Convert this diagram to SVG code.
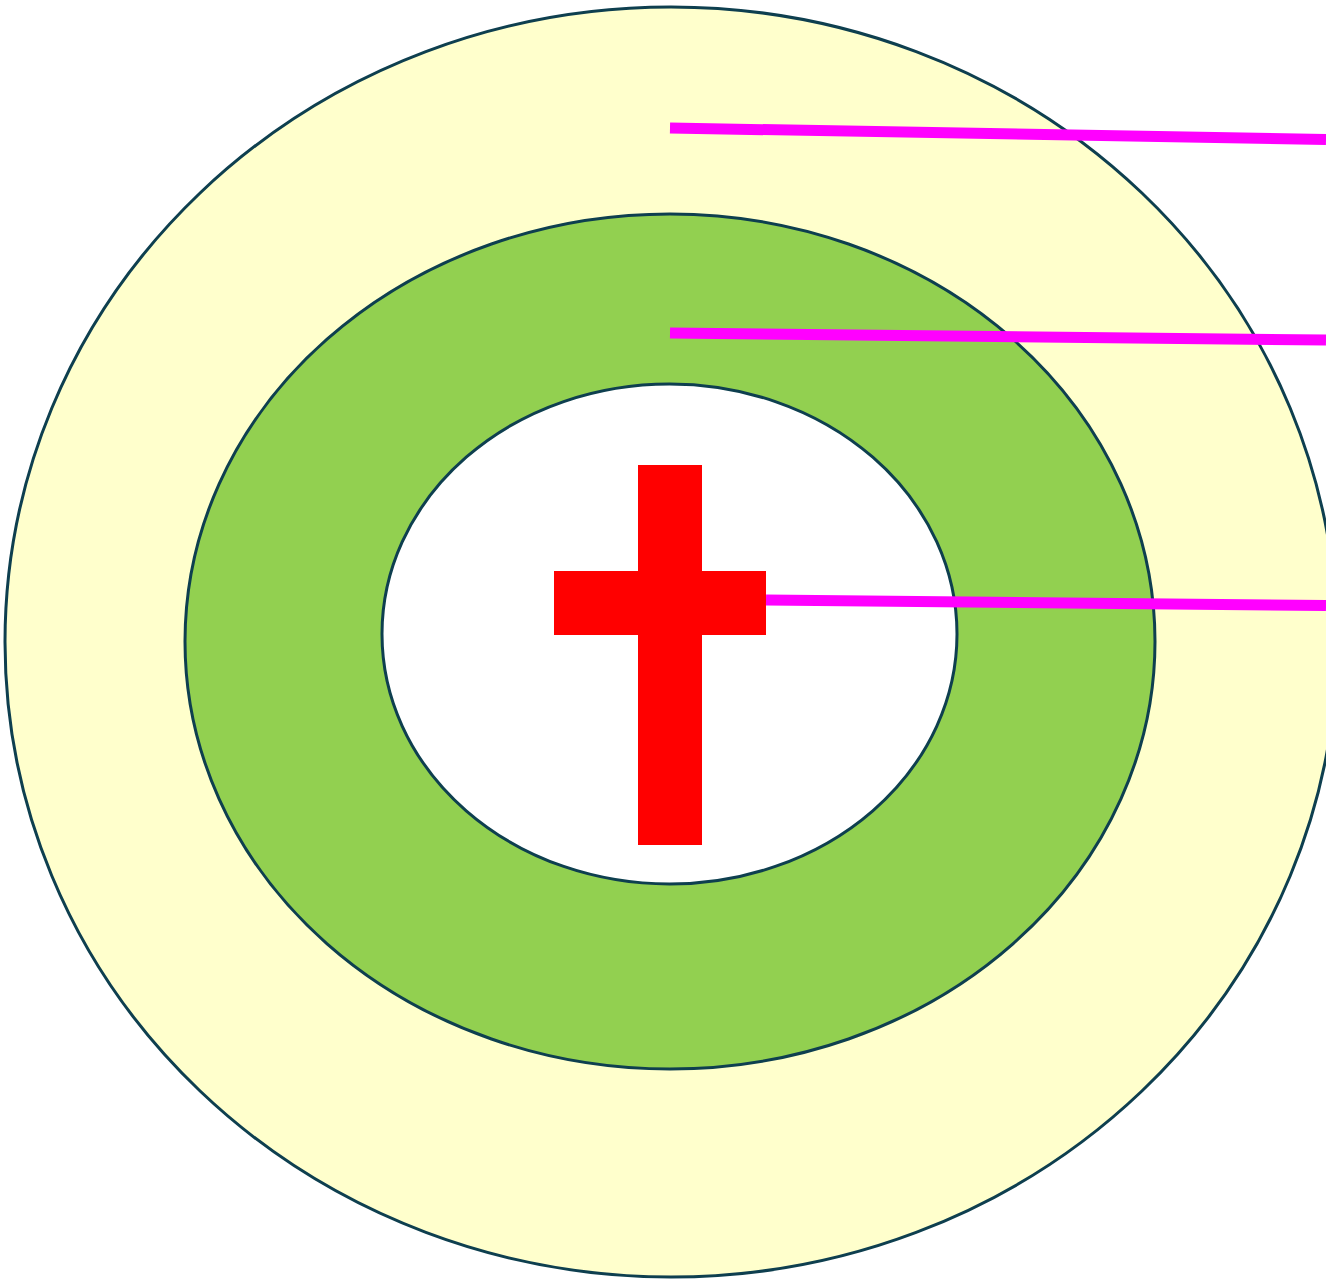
<svg xmlns="http://www.w3.org/2000/svg" width="1326" height="1283" viewBox="0 0 1326 1283">
<style>
.ring{stroke:#0e3f4f;stroke-width:3}
.lead{stroke:#ff00ff;stroke-width:11;fill:none}
.cross{fill:#ff0000}
</style>
<rect width="1326" height="1283" fill="#ffffff"/>
<g id="outer"><ellipse class="ring" cx="671" cy="642" rx="666" ry="635" fill="#ffffcc"/></g>
<g id="middle"><ellipse class="ring" cx="670" cy="641.5" rx="485" ry="427.5" fill="#92d050"/></g>
<g id="inner"><ellipse class="ring" cx="669.5" cy="634" rx="287.5" ry="250" fill="#ffffff"/></g>
<g id="cross">
<rect class="cross" x="638" y="465" width="64" height="380"/>
<rect class="cross" x="554" y="571" width="212" height="64"/>
</g>
<g id="connectors">
<line class="lead" x1="670" y1="128" x2="1326" y2="139.5"/>
<line class="lead" x1="670" y1="333" x2="1326" y2="340"/>
<line class="lead" x1="766" y1="600" x2="1326" y2="605.5"/>
</g>
</svg>
